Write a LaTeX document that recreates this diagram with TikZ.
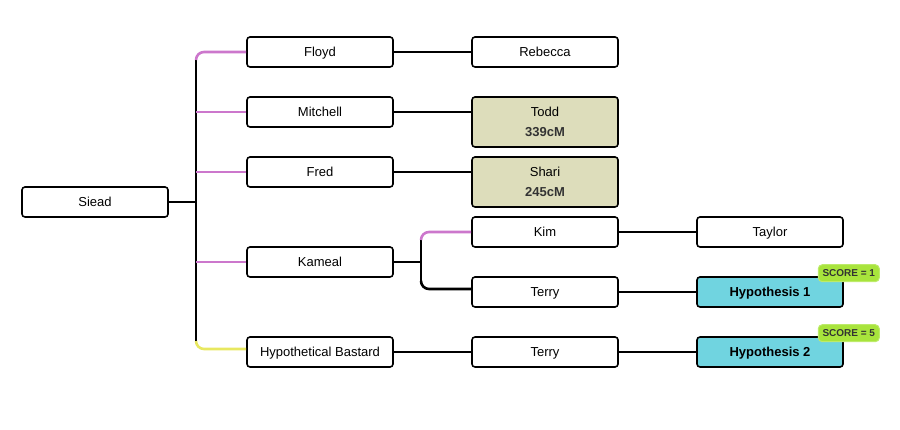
\documentclass[tikz,border=0pt]{standalone}
\usepackage{fontspec}
\setmainfont{Liberation Sans}
\usetikzlibrary{positioning}
\definecolor{forkpink}{HTML}{CC77CC}
\definecolor{forkyellow}{HTML}{E8E860}
\definecolor{matchtan}{HTML}{DDDDBB}
\definecolor{hypocyan}{HTML}{70D4E0}
\definecolor{scoregreen}{HTML}{A8E43C}
\definecolor{scoreedge}{HTML}{BDEB6A}
\definecolor{inkgray}{HTML}{333333}
\begin{document}
\begin{tikzpicture}[x=1pt,y=-1pt,line join=round,
    person/.style={draw,line width=1.6pt,rounded corners=3pt,minimum width=146pt,minimum height=30pt,
      inner sep=0pt,text height=11pt,text depth=2pt,font=\fontsize{13}{20}\selectfont},
    match/.style={person,fill=matchtan,minimum height=50pt,align=center,text height={},text depth={}},
    hypo/.style={person,fill=hypocyan,font=\fontsize{13}{20}\selectfont\bfseries},
    badge/.style={draw=scoreedge,line width=1pt,fill=scoregreen,rounded corners=4pt,text=inkgray,
      minimum width=61pt,minimum height=17pt,inner sep=0pt,text height=7.5pt,text depth=1pt,
      font=\fontsize{10}{10}\selectfont\bfseries},
    link/.style={line width=1.6pt},
    sib/.style={line width=2.6pt,rounded corners=8pt}]
  \useasboundingbox (0,0) rectangle (900,430);
  % family tree boxes
  \foreach \x/\y/\n/\t in {95/202/siead/Siead,
      320/52/floyd/Floyd,320/112/mitchell/Mitchell,320/172/fred/Fred,
      320/262/kameal/Kameal,320/352/bastard/Hypothetical Bastard,
      545/52/rebecca/Rebecca,545/232/kim/Kim,545/292/terryA/Terry,545/352/terryB/Terry,
      770/232/taylor/Taylor}{
      \node[person] (\n) at (\x,\y) {\t};
  }
  \node[match] (todd) at (545,122) {Todd\\\textcolor{inkgray}{\bfseries 339cM}};
  \node[match] (shari) at (545,182) {Shari\\\textcolor{inkgray}{\bfseries 245cM}};
  \node[hypo] (hypoA) at (770,292) {Hypothesis 1};
  \node[hypo] (hypoB) at (770,352) {Hypothesis 2};
  \node[badge,shift={(5,-3)}] (scoreA) at (hypoA.north east) {SCORE = 1};
  \node[badge,shift={(5,-3)}] (scoreB) at (hypoB.north east) {SCORE = 5};
  % forks
  \coordinate (sfork) at (196,202);
  \coordinate (kfork) at (421,262);
  \draw[link] (siead.east) -- (sfork) (196,60) -- (196,341);
  \draw[link] (kameal.east) -- (kfork) (421,240) -- (421,281);
  \draw[sib,forkpink] (floyd.west) -| (196,60);
  \foreach \c in {mitchell,fred,kameal}{
      \draw[sib,forkpink] (\c.west) -- (\c.west -| sfork);
  }
  \draw[sib,forkyellow] (bastard.west) ++(0,-3) -| (196,341);
  \draw[sib,forkpink] (kim.west) -| (421,240);
  \draw[sib] (terryA.west) ++(0,-3) -| (421,281);
  % straight links
  \foreach \a/\b in {floyd/rebecca,mitchell/todd,fred/shari,bastard/terryB,
      kim/taylor,terryA/hypoA,terryB/hypoB}{
      \draw[link] (\a.east) -- (\a.east -| \b.west);
  }
\end{tikzpicture}
\end{document}
